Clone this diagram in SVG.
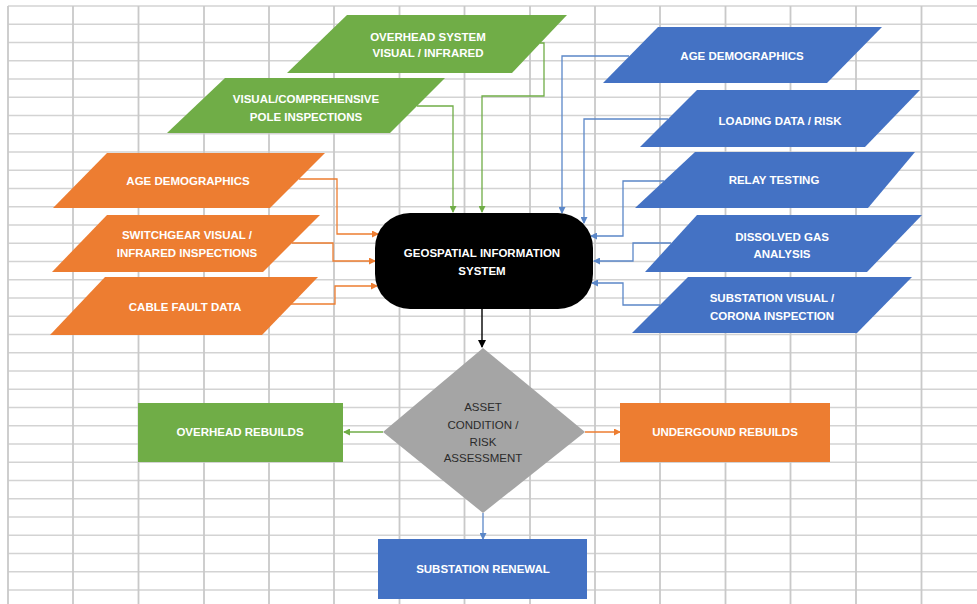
<svg xmlns="http://www.w3.org/2000/svg" width="977" height="604" viewBox="0 0 977 604">
<style>
.gh{stroke:#d3d3d3;stroke-width:1.5}
.gv{stroke:#c9c9c9;stroke-width:1.8}
.t{font-family:"Liberation Sans",Arial,sans-serif;font-weight:bold;font-size:11.5px;fill:#ffffff;text-anchor:middle}
.td{font-family:"Liberation Sans",Arial,sans-serif;font-size:11.5px;fill:#2b2b2b;text-anchor:middle}
.green{fill:#70ad47}
.blue{fill:#4472c4}
.orange{fill:#ed7d31}
.cg{fill:none;stroke:#70ad47;stroke-width:1.3}
.cb{fill:none;stroke:#5b87c8;stroke-width:1.3}
.co{fill:none;stroke:#ed7d31;stroke-width:1.3}
.ck{fill:none;stroke:#000000;stroke-width:1.4}
</style>
<defs>
<marker id="ag" markerWidth="7" markerHeight="7" refX="6" refY="3.5" orient="auto" markerUnits="userSpaceOnUse"><path d="M0,0 L7,3.5 L0,7 Z" fill="#70ad47"/></marker>
<marker id="ab" markerWidth="7" markerHeight="7" refX="6" refY="3.5" orient="auto" markerUnits="userSpaceOnUse"><path d="M0,0 L7,3.5 L0,7 Z" fill="#5b87c8"/></marker>
<marker id="ao" markerWidth="7" markerHeight="7" refX="6" refY="3.5" orient="auto" markerUnits="userSpaceOnUse"><path d="M0,0 L7,3.5 L0,7 Z" fill="#ed7d31"/></marker>
<marker id="ak" markerWidth="8" markerHeight="8" refX="7" refY="4" orient="auto" markerUnits="userSpaceOnUse"><path d="M0,0 L8,4 L0,8 Z" fill="#000000"/></marker>
</defs>
<rect width="977" height="604" fill="#ffffff"/>
<g id="grid">
<path class="gh" d="M8 6H977M8 24.25H977M8 42.5H977M8 60.75H977M8 79H977M8 97.25H977M8 115.5H977M8 133.75H977M8 152H977M8 170.25H977M8 188.5H977M8 206.75H977M8 225H977M8 243.25H977M8 261.5H977M8 279.75H977M8 298H977M8 316.25H977M8 334.5H977M8 352.75H977M8 371H977M8 389.25H977M8 407.5H977M8 425.75H977M8 444H977M8 462.25H977M8 480.5H977M8 498.75H977M8 517H977M8 535.25H977M8 553.5H977M8 571.75H977M8 590H977"/>
<path class="gv" d="M8 6V604M73 6V604M138.5 6V604M204 6V604M269 6V604M334 6V604M399.5 6V604M464.5 6V604M530 6V604M595 6V604M660 6V604M725.5 6V604M790.5 6V604M856 6V604M921.5 6V604"/>
</g>
<g id="connectors">
<path class="cg" d="M540 43H544V96H482V212" marker-end="url(#ag)"/>
<path class="cg" d="M417 106H453V212" marker-end="url(#ag)"/>
<path class="cb" d="M629 56H562V213" marker-end="url(#ab)"/>
<path class="cb" d="M668 119H584V223" marker-end="url(#ab)"/>
<path class="cb" d="M664 181H623V236H591" marker-end="url(#ab)"/>
<path class="cb" d="M671 243H633V261H594" marker-end="url(#ab)"/>
<path class="cb" d="M660 305H623V283H592" marker-end="url(#ab)"/>
<path class="co" d="M299 179H337V234H378" marker-end="url(#ao)"/>
<path class="co" d="M292 243H333V261H375" marker-end="url(#ao)"/>
<path class="co" d="M291 304H335V286H377" marker-end="url(#ao)"/>
<path class="ck" d="M482 309V347" marker-end="url(#ak)"/>
<path class="cg" d="M383 432H344" marker-end="url(#ag)"/>
<path class="co" d="M585 432H620" marker-end="url(#ao)"/>
<path class="cb" d="M483 513V539" marker-end="url(#ab)"/>
</g>
<g id="overhead-system">
<polygon class="green" points="347,15 567,15 512,73 287,73"/>
<text class="t" x="428" y="41">OVERHEAD SYSTEM</text>
<text class="t" x="428" y="57">VISUAL / INFRARED</text>
</g>
<g id="pole-inspections">
<polygon class="green" points="225,78 445,78 390,133 167,133"/>
<text class="t" x="306" y="103">VISUAL/COMPREHENSIVE</text>
<text class="t" x="306" y="121">POLE INSPECTIONS</text>
</g>
<g id="age-demographics-orange">
<polygon class="orange" points="107,153 325,153 270,208 53,208"/>
<text class="t" x="188" y="185">AGE DEMOGRAPHICS</text>
</g>
<g id="switchgear">
<polygon class="orange" points="107,215 320,215 263,272 52,272"/>
<text class="t" x="187" y="239">SWITCHGEAR VISUAL /</text>
<text class="t" x="187" y="257">INFRARED INSPECTIONS</text>
</g>
<g id="cable-fault">
<polygon class="orange" points="105,277 318,277 262,335 50,335"/>
<text class="t" x="185" y="311">CABLE FAULT DATA</text>
</g>
<g id="age-demographics-blue">
<polygon class="blue" points="658,27 882,27 827,83 603,83"/>
<text class="t" x="742" y="60">AGE DEMOGRAPHICS</text>
</g>
<g id="loading-data">
<polygon class="blue" points="697,90 920,90 865,147 640,147"/>
<text class="t" x="780" y="125">LOADING DATA / RISK</text>
</g>
<g id="relay-testing">
<polygon class="blue" points="695,152 915,152 868,208 635,208"/>
<text class="t" x="774" y="184">RELAY TESTING</text>
</g>
<g id="dissolved-gas">
<polygon class="blue" points="697,215 922,215 867,272 645,272"/>
<text class="t" x="782" y="241">DISSOLVED GAS</text>
<text class="t" x="782" y="258">ANALYSIS</text>
</g>
<g id="substation-visual">
<polygon class="blue" points="688,277 912,277 857,333 632,333"/>
<text class="t" x="772" y="302">SUBSTATION VISUAL /</text>
<text class="t" x="772" y="320">CORONA INSPECTION</text>
</g>
<g id="gis">
<rect x="375" y="213" width="218" height="96" rx="35" ry="35" fill="#000000"/>
<text class="t" x="482" y="257">GEOSPATIAL INFORMATION</text>
<text class="t" x="482" y="275">SYSTEM</text>
</g>
<g id="assessment">
<polygon points="483,348 585,432 483,513 383,432" fill="#a5a5a5"/>
<text class="td" x="483" y="411">ASSET</text>
<text class="td" x="483" y="429">CONDITION /</text>
<text class="td" x="483" y="446">RISK</text>
<text class="td" x="483" y="462">ASSESSMENT</text>
</g>
<g id="overhead-rebuilds">
<rect class="green" x="138" y="403" width="205" height="59"/>
<text class="t" x="240" y="436">OVERHEAD REBUILDS</text>
</g>
<g id="underground-rebuilds">
<rect class="orange" x="620" y="403" width="210" height="59"/>
<text class="t" x="725" y="436">UNDERGOUND REBUILDS</text>
</g>
<g id="substation-renewal">
<rect class="blue" x="378" y="539" width="209" height="60"/>
<text class="t" x="483" y="573">SUBSTATION RENEWAL</text>
</g>
</svg>
